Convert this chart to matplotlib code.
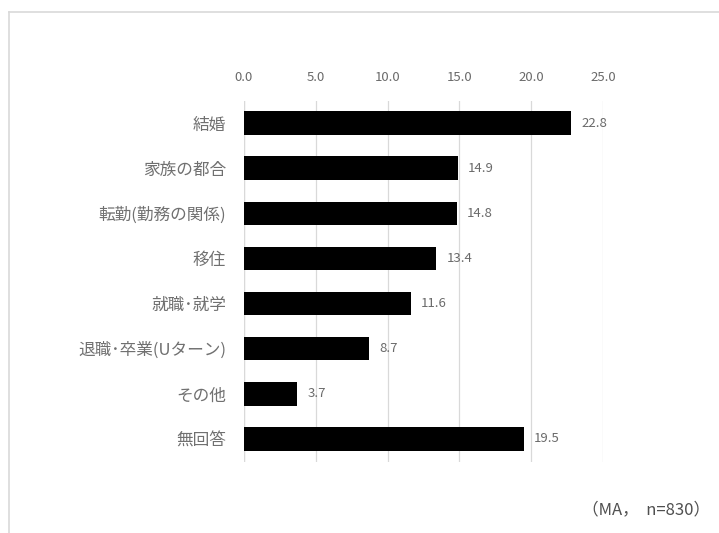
import matplotlib
matplotlib.use("Agg")
import matplotlib.pyplot as plt
from matplotlib.lines import Line2D

plt.rcParams['font.family'] = ['Noto Sans CJK JP', 'DejaVu Sans']

categories = ["結婚", "家族の都合", "転勤(勤務の関係)", "移住", "就職･就学",
              "退職･卒業(Uターン)", "その他", "無回答"]
values = [22.8, 14.9, 14.8, 13.4, 11.6, 8.7, 3.7, 19.5]
ticks = [0, 5, 10, 15, 20, 25]
note = "（MA，  n=830）"

W, H = 719, 533
fig = plt.figure(figsize=(W / 100, H / 100), dpi=100)

# light frame around the chart area
fig.add_artist(Line2D([9 / W, 9 / W], [0, 1 - 12 / H], color="#d9d9d9", lw=1.2,
                      transform=fig.transFigure))
fig.add_artist(Line2D([9 / W, 1], [1 - 12 / H, 1 - 12 / H], color="#d9d9d9", lw=1.2,
                      transform=fig.transFigure))

left, right = 244, 603
top, bottom = 100.5, 461.5
ax = fig.add_axes([left / W, 1 - bottom / H, (right - left) / W, (bottom - top) / H])

y = list(range(len(categories)))
ax.barh(y, values, height=0.52, color="black", zorder=3)
for yi, v in zip(y, values):
    ax.text(v + 0.7, yi, f"{v:.1f}", va="center", ha="left", fontsize=9.5,
            color="#6a6a6a")

ax.set_xlim(0, 25)
ax.set_ylim(len(categories) - 0.5, -0.5)
ax.set_xticks(ticks)
ax.set_xticklabels([f"{t:.1f}" for t in ticks], fontsize=9.5, color="#6a6a6a")
ax.xaxis.tick_top()
ax.tick_params(axis="x", length=0, pad=12)
ax.set_yticks(y)
ax.set_yticklabels(categories, fontsize=12, color="#707070")
ax.tick_params(axis="y", length=0, pad=13)
ax.grid(axis="x", color="#d9d9d9", lw=0.9, zorder=0)
for s in ax.spines.values():
    s.set_visible(False)
ax.axvline(0, color="#d9d9d9", lw=0.9, zorder=1)

fig.text(710 / W, 1 - 510 / H, note, ha="right", va="center", fontsize=12,
         color="#505050")

fig.savefig("out.png", dpi=100, facecolor="white")
